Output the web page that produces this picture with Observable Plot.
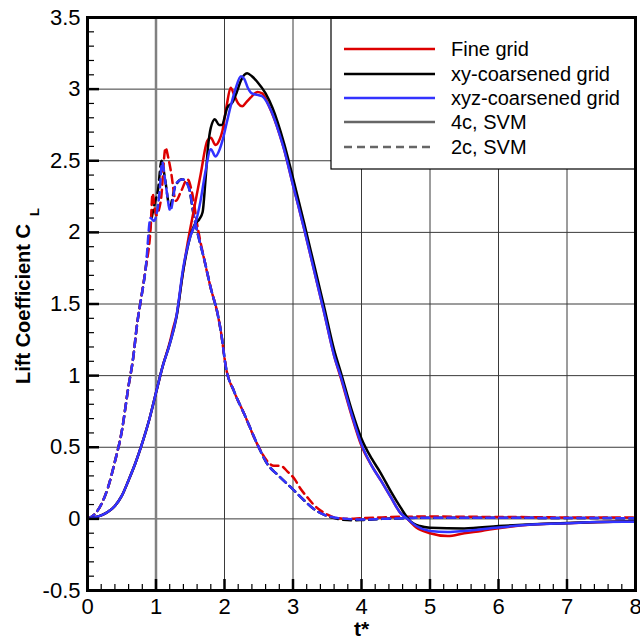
<!DOCTYPE html>
<html>
<head>
<meta charset="utf-8">
<script src="https://cdn.jsdelivr.net/npm/d3@7"></script>
<script src="https://cdn.jsdelivr.net/npm/@observablehq/plot@0.6"></script>
<style>
  html, body { margin: 0; padding: 0; background: #fff; }
  #chart { position: relative; width: 640px; height: 639px; }
</style>
</head>
<body>
<div id="chart"></div>
<script>
// ---------- data (t*, C_L) ----------
const fine4c = [[0,0],[0.1,0.01],[0.2,0.025],[0.3,0.05],[0.4,0.09],[0.5,0.16],[0.6,0.27],[0.7,0.39],[0.8,0.53],[0.9,0.69],[1.0,0.88],[1.1,1.07],[1.2,1.23],[1.25,1.33],[1.3,1.42],[1.38,1.68],[1.46,1.92],[1.55,2.15],[1.65,2.4],[1.75,2.64],[1.8,2.66],[1.87,2.61],[1.93,2.65],[1.97,2.71],[2.03,2.88],[2.09,3.01],[2.14,2.96],[2.2,2.9],[2.26,2.88],[2.32,2.91],[2.38,2.94],[2.48,2.98],[2.55,2.97],[2.65,2.88],[2.8,2.69],[2.87,2.58],[3.0,2.33],[3.16,2.03],[3.31,1.73],[3.45,1.45],[3.6,1.14],[3.7,0.98],[3.85,0.73],[4.0,0.51],[4.15,0.37],[4.28,0.27],[4.43,0.15],[4.57,0.04],[4.67,0.0],[4.8,-0.06],[5.0,-0.1],[5.26,-0.12],[5.5,-0.1],[5.75,-0.084],[6.0,-0.065],[6.5,-0.04],[7.0,-0.03],[7.5,-0.022],[8.0,-0.018]];
const xy4c = [[0,0],[0.1,0.01],[0.2,0.025],[0.3,0.05],[0.4,0.09],[0.5,0.16],[0.6,0.27],[0.7,0.39],[0.8,0.53],[0.9,0.69],[1.0,0.88],[1.1,1.07],[1.2,1.22],[1.3,1.41],[1.4,1.74],[1.5,1.97],[1.57,2.06],[1.63,2.09],[1.68,2.14],[1.72,2.35],[1.76,2.6],[1.8,2.73],[1.86,2.79],[1.92,2.75],[1.96,2.75],[2.04,2.87],[2.12,2.91],[2.18,2.98],[2.24,3.06],[2.33,3.11],[2.4,3.09],[2.48,3.05],[2.6,2.97],[2.7,2.87],[2.87,2.62],[3.0,2.38],[3.16,2.07],[3.31,1.77],[3.45,1.49],[3.6,1.18],[3.7,1.02],[3.85,0.77],[4.0,0.56],[4.15,0.42],[4.28,0.32],[4.43,0.19],[4.57,0.08],[4.7,-0.01],[4.85,-0.05],[5.0,-0.062],[5.5,-0.067],[6.0,-0.05],[6.5,-0.037],[7.0,-0.028],[7.5,-0.022],[8.0,-0.018]];
const xyz4c = [[0,0],[0.1,0.01],[0.2,0.025],[0.3,0.05],[0.4,0.09],[0.5,0.16],[0.6,0.27],[0.7,0.39],[0.8,0.53],[0.9,0.69],[1.0,0.88],[1.1,1.07],[1.2,1.22],[1.3,1.42],[1.4,1.76],[1.5,1.97],[1.58,2.07],[1.65,2.22],[1.72,2.42],[1.8,2.58],[1.87,2.53],[1.93,2.58],[1.97,2.64],[2.03,2.76],[2.09,2.88],[2.16,3.0],[2.24,3.09],[2.29,3.07],[2.34,3.01],[2.4,2.97],[2.48,2.96],[2.55,2.95],[2.68,2.85],[2.8,2.69],[2.87,2.58],[3.0,2.33],[3.16,2.03],[3.31,1.73],[3.45,1.45],[3.6,1.14],[3.7,0.99],[3.85,0.74],[4.0,0.52],[4.15,0.37],[4.28,0.27],[4.43,0.15],[4.57,0.04],[4.67,0.0],[4.8,-0.05],[5.0,-0.085],[5.26,-0.092],[5.5,-0.085],[6.0,-0.06],[6.5,-0.04],[7.0,-0.03],[7.5,-0.022],[8.0,-0.02]];
const fine2c = [[0,0],[0.1,0.03],[0.2,0.1],[0.3,0.22],[0.4,0.4],[0.5,0.61],[0.6,0.93],[0.66,1.1],[0.73,1.38],[0.78,1.53],[0.85,1.75],[0.92,2.02],[0.95,2.27],[1.0,2.12],[1.07,2.22],[1.14,2.59],[1.18,2.52],[1.22,2.42],[1.29,2.22],[1.36,2.28],[1.46,2.37],[1.53,2.27],[1.61,2.03],[1.7,1.82],[1.8,1.61],[1.9,1.43],[1.95,1.3],[2.02,1.06],[2.14,0.89],[2.29,0.73],[2.48,0.52],[2.63,0.4],[2.72,0.37],[2.82,0.37],[2.92,0.33],[3.02,0.28],[3.11,0.21],[3.21,0.15],[3.3,0.1],[3.41,0.056],[3.5,0.03],[3.6,0.01],[3.8,0.0],[4.0,0.005],[4.3,0.01],[4.6,0.015],[5.0,0.016],[5.5,0.015],[6.0,0.013],[6.5,0.012],[7.0,0.01],[7.5,0.01],[8.0,0.01]];
const xy2c = [[0,0],[0.1,0.03],[0.2,0.1],[0.3,0.22],[0.4,0.4],[0.5,0.61],[0.6,0.93],[0.66,1.1],[0.73,1.38],[0.78,1.53],[0.85,1.75],[0.92,2.05],[0.98,2.2],[1.03,2.3],[1.08,2.5],[1.13,2.38],[1.2,2.18],[1.28,2.32],[1.38,2.37],[1.47,2.33],[1.55,2.12],[1.63,1.95],[1.7,1.82],[1.8,1.61],[1.9,1.43],[1.95,1.3],[2.02,1.06],[2.14,0.89],[2.29,0.73],[2.48,0.52],[2.63,0.38],[2.77,0.31],[2.97,0.22],[3.16,0.13],[3.3,0.07],[3.45,0.03],[3.6,0.005],[3.85,-0.01],[4.0,-0.008],[4.3,0.0],[4.6,0.005],[5.0,0.008],[6.0,0.008],[7.0,0.006],[8.0,0.005]];
const xyz2c = [[0,0],[0.1,0.03],[0.2,0.1],[0.3,0.22],[0.4,0.4],[0.5,0.61],[0.6,0.93],[0.66,1.1],[0.73,1.38],[0.78,1.53],[0.85,1.75],[0.92,2.1],[0.97,2.08],[1.05,2.27],[1.09,2.49],[1.14,2.34],[1.21,2.15],[1.29,2.34],[1.39,2.37],[1.48,2.31],[1.56,2.1],[1.63,1.95],[1.7,1.82],[1.8,1.61],[1.9,1.43],[1.95,1.3],[2.02,1.06],[2.14,0.89],[2.29,0.73],[2.48,0.52],[2.63,0.38],[2.77,0.31],[2.97,0.22],[3.16,0.13],[3.3,0.07],[3.45,0.03],[3.6,0.01],[3.8,0.0],[4.0,-0.005],[4.3,0.0],[4.6,0.005],[5.0,0.008],[6.0,0.008],[7.0,0.006],[8.0,0.005]];

const svmLineT = [1];   // vertical reference line at t* = 1

const xTickValues = [0,1,2,3,4,5,6,7,8];
const xTickLabels = ["0","1","2","3","4","5","6","7","8"];
const yTickValues = [-0.5,0,0.5,1,1.5,2,2.5,3,3.5];
const yTickLabels = ["-0.5","0","0.5","1","1.5","2","2.5","3","3.5"];
const xMinorTicks = d3.range(0, 8.0001, 0.2).filter(v => Math.abs(v - Math.round(v)) > 1e-6);
const yMinorTicks = d3.range(-0.5, 3.5001, 0.1).filter(v => Math.abs(v*2 - Math.round(v*2)) > 1e-6);

const legendLabels = ["Fine grid","xy-coarsened grid","xyz-coarsened grid","4c, SVM","2c, SVM"];
const legendColors = ["#dd0000","#000000","#3333ff","#666666","#666666"];
const legendDash = [null,null,null,null,"8,5"];

// ---------- layout ----------
const W = 640, H = 639, mL = 87, mR = 5, mT = 17, mB = 49;
const innerW = W - mL - mR, innerH = H - mT - mB;
const RED = "#dd0000", BLACK = "#000000", BLUE = "#3333ff";
const FONT = "'Liberation Sans', Arial, Helvetica, sans-serif";

const lineOpts = (stroke, dash) => ({
  x: d => d[0], y: d => d[1], stroke, strokeWidth: 2.5,
  curve: "monotone-x", strokeDasharray: dash || null
});

function legendMark(index, scales, values, dims) {
  const g = d3.create("svg:g");
  const bx = 331, by = mT, bw = W - mR - 331, bh = 169 - mT;
  g.append("rect").attr("x", bx).attr("y", by).attr("width", bw).attr("height", bh)
    .attr("fill", "white").attr("stroke", "black").attr("stroke-width", 1.2);
  const rows = [49, 74, 98, 122, 147];
  legendLabels.forEach((lab, i) => {
    g.append("line").attr("x1", 344).attr("x2", 435).attr("y1", rows[i]).attr("y2", rows[i])
      .attr("stroke", legendColors[i]).attr("stroke-width", 2.5)
      .attr("stroke-dasharray", legendDash[i]);
    g.append("text").attr("x", 451).attr("y", rows[i]).attr("dy", "0.36em")
      .attr("text-anchor", "start")
      .attr("font-family", FONT).attr("font-size", 20).attr("fill", "black").text(lab);
  });
  return g.node();
}

const chart = Plot.plot({
  width: W, height: H,
  marginLeft: mL, marginRight: mR, marginTop: mT, marginBottom: mB,
  x: {domain: [0, 8], axis: null},
  y: {domain: [-0.5, 3.5], axis: null},
  style: {fontFamily: FONT, background: "white", color: "black", overflow: "visible"},
  marks: [
    Plot.gridX(xTickValues, {stroke: "#3a3a3a", strokeOpacity: 1, strokeWidth: 1}),
    Plot.gridY(yTickValues, {stroke: "#3a3a3a", strokeOpacity: 1, strokeWidth: 1}),
    Plot.ruleX(svmLineT, {x: d => d, stroke: "#808080", strokeWidth: 2.5}),
    // 2c (dashed)
    Plot.line(xy2c, lineOpts(BLACK, "8,5")),
    Plot.line(fine2c, lineOpts(RED, "8,5")),
    Plot.line(xyz2c, lineOpts(BLUE, "8,5")),
    // 4c (solid)
    Plot.line(fine4c, lineOpts(RED)),
    Plot.line(xy4c, lineOpts(BLACK)),
    Plot.line(xyz4c, lineOpts(BLUE)),
    legendMark,
    // inward ticks
    Plot.ruleX(xTickValues, {x: d => d, insetTop: innerH - 11, stroke: "black", strokeWidth: 2.5}),
    Plot.ruleX(xMinorTicks, {x: d => d, insetTop: innerH - 6, stroke: "black", strokeWidth: 1.2}),
    Plot.ruleY(yTickValues, {y: d => d, insetRight: innerW - 12, stroke: "black", strokeWidth: 2.5}),
    Plot.ruleY(yMinorTicks, {y: d => d, insetRight: innerW - 7, stroke: "black", strokeWidth: 1.2}),
    Plot.frame({stroke: "black", strokeWidth: 3}),
    // tick labels
    Plot.text(xTickValues, {x: d => d, text: (d, i) => xTickLabels[i], frameAnchor: "bottom",
      textAnchor: "middle", dy: 16, lineAnchor: "middle", fontSize: 22, fill: "black"}),
    Plot.text(yTickValues, {y: d => d, text: (d, i) => yTickLabels[i], frameAnchor: "left",
      textAnchor: "end", dx: -7, lineAnchor: "middle", fontSize: 22, fill: "black"}),
    // axis titles
    Plot.text(["t*"], {text: d => d, frameAnchor: "bottom", textAnchor: "middle", dy: 39,
      lineAnchor: "middle", fontSize: 21, fontWeight: "bold", fill: "black"}),
    Plot.text(["Lift Coefficient C"], {text: d => d, frameAnchor: "left", textAnchor: "middle",
      rotate: -90, dx: -64, lineAnchor: "middle", fontSize: 20, fontWeight: "bold", fill: "black"}),
    Plot.text(["L"], {text: d => d, frameAnchor: "left", textAnchor: "middle", rotate: -90,
      dx: -53, dy: -92, lineAnchor: "middle", fontSize: 13, fontWeight: "bold", fill: "black"})
  ]
});

document.getElementById("chart").appendChild(chart);
</script>
</body>
</html>
